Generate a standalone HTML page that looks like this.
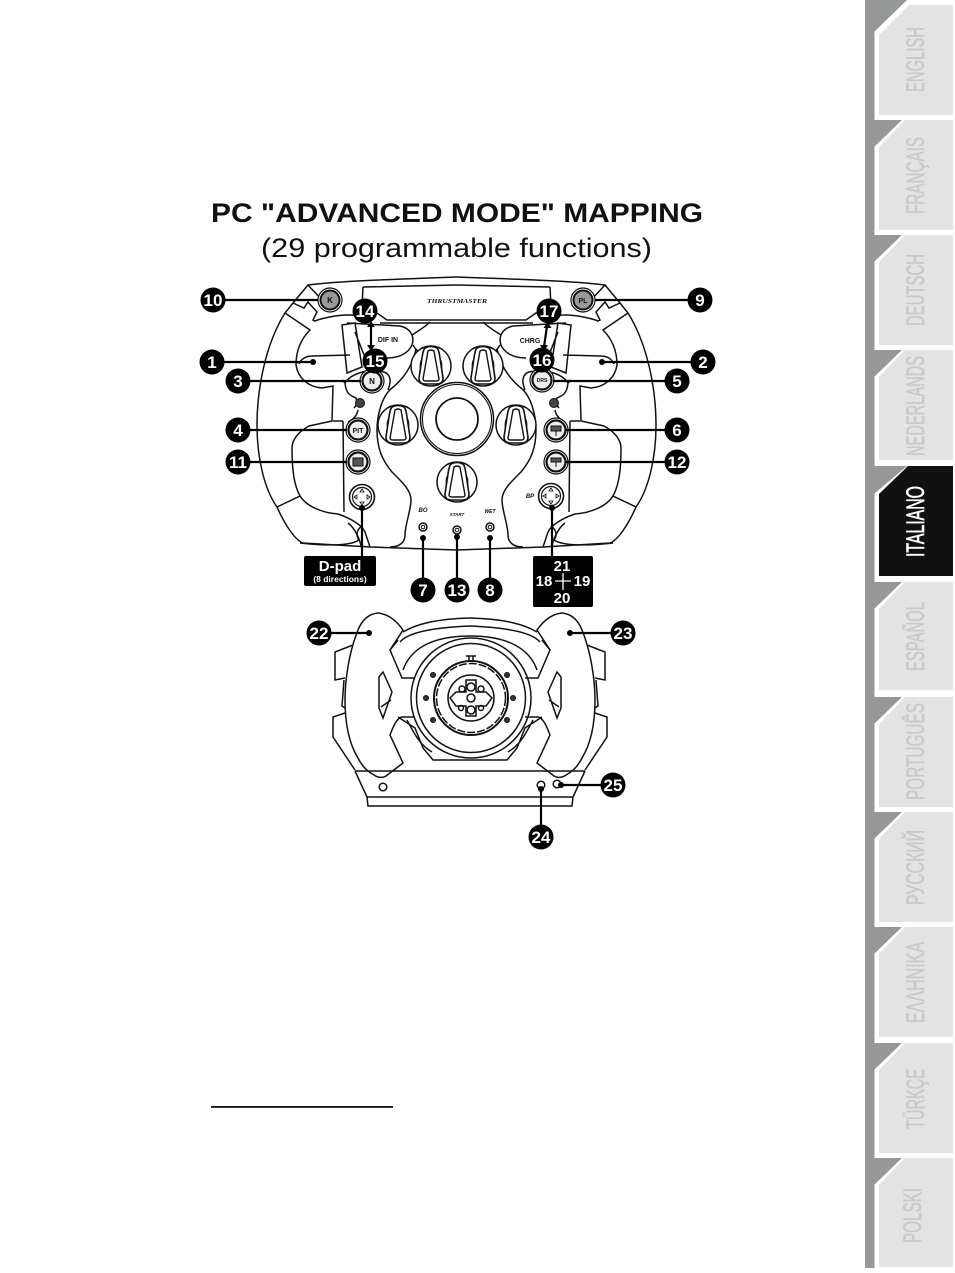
<!DOCTYPE html>
<html><head><meta charset="utf-8"><style>
html,body{margin:0;padding:0;background:#fff}
svg{display:block}
text{font-family:"Liberation Sans","DejaVu Sans",sans-serif}
.t{font-size:25px;fill:#c9c9c9;stroke:#c9c9c9;stroke-width:.6;font-family:"Liberation Sans Narrow","Liberation Sans",sans-serif}
.n{font-size:17px;font-weight:bold;fill:#fff;text-anchor:middle}
.s{font-size:6px;font-weight:bold;font-style:italic;fill:#111;text-anchor:middle}
.bt{font-size:6px;font-weight:bold;fill:#111;text-anchor:middle}
.l{fill:none;stroke:#111;stroke-width:1.5}
.c{stroke:#000;stroke-width:2.2;fill:none}
</style></head><body>
<svg width="955" height="1273" viewBox="0 0 955 1273" xmlns="http://www.w3.org/2000/svg">
<defs>
<g id="k" fill="none" stroke="#111">
<circle r="20" stroke-width="1.5" fill="#fff"/>
<path d="M-11,0A11,13 0 0 0 11,0A11,13 0 0 0 -11,0" stroke-width=".8"/>
<path d="M-6,-18Q0,-21 6,-18Q8,-16 9,-8L12,12Q12,18 6,18L-6,18Q-12,18 -12,12L-9,-8Q-8,-16 -6,-18Z" fill="#fff" stroke-width="1.6"/>
<path d="M-3,-15Q0,-17 3,-15L8,13Q8,15 5,15L-5,15Q-8,15 -8,13Z" stroke-width="1.4"/>
</g>
<g id="b"><circle r="12" fill="#fff" stroke="#111" stroke-width="1.2"/><circle r="9.5" fill="#eee" stroke="#111" stroke-width="2.2"/></g>
<g id="bg"><circle r="12" fill="#fff" stroke="#111" stroke-width="1.2"/><circle r="9.5" fill="#999" stroke="#111" stroke-width="2"/></g>
<g id="d" fill="none" stroke="#111"><circle r="12.5" fill="#fff" stroke-width="1.6"/><circle r="9.5" stroke-width="1.2"/><path d="M0,-8l-2,3h4zM0,8l-2,-3h4zM-8,0l3,-2v4zM8,0l-3,-2v4z" stroke-width=".8"/></g>
<g id="tg" fill="none" stroke="#111"><circle r="4" stroke-width="1.5"/><circle r="1.8" stroke-width="1"/></g>
<g id="half" class="l">
<path d="M456.5,277C400,279 340,281 308,285L293,303L285,313C265,345 257,390 257,425C257,460 265,490 277,507C285,525 295,540 303,543L370,547L456.5,550"/>
<path d="M285,313L310,330C300,340 296,352 296,365C298,378 308,387 322,388L333,386L332,421L309,426C298,432 292,440 292,448C292,470 294,485 300,496L277,507M300,496C306,506 322,513 338,514C350,518 362,525 365,532L370,547"/>
<path d="M300,543C328,546 350,546 359,540C356,536 356,530 362,526M343,421L344,512M333,421L343,421"/>
<path d="M308,285L322,300M293,303L304,308L308,302L317,312L313,320L315,321C322,318 338,315 347,315C360,315 370,316 377,313L387,320L456.5,320M380,323L456.5,323"/>
<path d="M363,287L362,307M363,287L456.5,285"/>
<path d="M347,323L400,326C410,328 415,336 412,345C408,354 398,358 387,358"/>
<path d="M412,335C420,330 426,326 430,322M413,345C416,350 418,352 422,352"/>
<path d="M342,325L355,323L362,367L347,373ZM355,332L366,360M350,355L312,356C306,356 301,359 299,364" fill="#fff"/>
<path d="M345,383C350,375 365,368 384,372C390,374 392,380 388,390M345,383C346,395 352,396 356,398C358,403 356,406 354,408M345,383L342,380M358,410C357,416 352,420 348,422"/>
<path d="M416,349C412,368 402,380 392,388C382,396 377,415 377,430C377,448 382,460 392,472C402,482 411,490 411,500C411,510 405,525 405,535C405,542 400,547 390,547"/>
<path d="M348,523C355,528 360,540 361,546L361,547"/>
</g>
</defs>
<rect width="955" height="1273" fill="#fff"/>

<!-- sidebar -->
<rect x="865" y="0" width="9.5" height="1268" fill="#969897"/>
<g fill="#969897">
<path d="M865,0H907L874,32H865Z"/><path d="M865,120H902L874,147H865Z"/><path d="M865,235H902L874,262H865Z"/><path d="M865,350H902L874,377H865Z"/><path d="M865,466H907L874,494H865Z"/><path d="M865,582H902L874,609H865Z"/><path d="M865,697H902L874,724H865Z"/><path d="M865,812H902L874,839H865Z"/><path d="M865,927H902L874,954H865Z"/><path d="M865,1043H902L874,1070H865Z"/><path d="M865,1158H902L874,1185H865Z"/>
</g>
<g fill="#e3e3e3">
<path d="M879,35L909,5H953V115H879Z"/><path d="M879,147L905,120H953V230H879Z"/><path d="M879,262L905,235H953V345H879Z"/><path d="M879,377L905,350H953V460H879Z"/>
<path fill="#111" d="M879,494L908,466H953V576H879Z"/>
<path d="M879,609L905,582H953V690H879Z"/><path d="M879,724L905,697H953V807H879Z"/><path d="M879,839L905,812H953V922H879Z"/><path d="M879,954L905,927H953V1037H879Z"/><path d="M879,1070L905,1043H953V1153H879Z"/><path d="M879,1185L905,1158H953V1267H879Z"/>
</g>
<g class="t">
<text transform="translate(924,92) rotate(-90)" textLength="65" lengthAdjust="spacingAndGlyphs">ENGLISH</text>
<text transform="translate(924,214) rotate(-90)" textLength="77" lengthAdjust="spacingAndGlyphs">FRANÇAIS</text>
<text transform="translate(924,326) rotate(-90)" textLength="72" lengthAdjust="spacingAndGlyphs">DEUTSCH</text>
<text transform="translate(924,456) rotate(-90)" textLength="100" lengthAdjust="spacingAndGlyphs">NEDERLANDS</text>
<text transform="translate(924,557) rotate(-90)" textLength="71" lengthAdjust="spacingAndGlyphs" style="fill:#fff;stroke:#fff">ITALIANO</text>
<text transform="translate(924,671) rotate(-90)" textLength="69" lengthAdjust="spacingAndGlyphs">ESPAÑOL</text>
<text transform="translate(924,800) rotate(-90)" textLength="97" lengthAdjust="spacingAndGlyphs">PORTUGUÊS</text>
<text transform="translate(924,905) rotate(-90)" textLength="75" lengthAdjust="spacingAndGlyphs">РУССКИЙ</text>
<text transform="translate(924,1023) rotate(-90)" textLength="81" lengthAdjust="spacingAndGlyphs">ΕΛΛΗΝΙΚΑ</text>
<text transform="translate(924,1129) rotate(-90)" textLength="60" lengthAdjust="spacingAndGlyphs">TÜRKÇE</text>
<text transform="translate(921,1243) rotate(-90)" textLength="55" lengthAdjust="spacingAndGlyphs">POLSKI</text>
</g>

<!-- titles -->
<text x="211" y="222" font-size="27" font-weight="bold" fill="#111" textLength="492" lengthAdjust="spacingAndGlyphs">PC "ADVANCED MODE" MAPPING</text>
<text x="261" y="257" font-size="27" fill="#111" textLength="391" lengthAdjust="spacingAndGlyphs">(29 programmable functions)</text>
<rect x="211" y="1106" width="182" height="1.8" fill="#111"/>

<!-- front wheel -->
<use href="#half"/>
<use href="#half" transform="translate(913,0) scale(-1,1)"/>
<use href="#k" x="431" y="366"/><use href="#k" x="483" y="366"/><use href="#k" x="398" y="425"/><use href="#k" x="516" y="425"/><use href="#k" x="457" y="482"/>
<g class="l"><circle cx="457" cy="419" r="36.5"/><circle cx="457" cy="419" r="34.5" stroke-width="1.1"/><circle cx="457" cy="419" r="21" stroke-width="1.8"/></g>
<text x="457" y="303" font-size="6.5" font-weight="bold" font-style="italic" text-anchor="middle" textLength="60" lengthAdjust="spacingAndGlyphs" style="font-family:'Liberation Serif',serif" fill="#111">THRUSTMASTER</text>
<use href="#bg" x="330" y="300"/><use href="#bg" x="583" y="300"/><use href="#b" x="372" y="381"/><use href="#b" x="542" y="380"/><use href="#b" x="358" y="430"/><use href="#b" x="556" y="430"/><use href="#b" x="358" y="462"/><use href="#b" x="556" y="462"/>
<text class="bt" x="330" y="303" style="font-size:8px">K</text><text class="bt" x="583" y="303" style="font-size:7px">PL</text><text class="bt" x="372" y="384" style="font-size:8px">N</text><text class="bt" x="542" y="382" style="font-size:5px">DRS</text><text class="bt" x="358" y="433" style="font-size:7px">PIT</text>
<path d="M353,458h10v8h-10zM551,458h10v4h-10zM556,462v5M551,426h10v5h-10zM556,431v5" fill="#555" stroke="#111"/>
<use href="#d" x="362" y="497"/><use href="#d" x="551" y="496"/>
<g fill="#444" stroke="#111"><circle cx="360" cy="403" r="4.5"/><circle cx="554" cy="403" r="4.5"/></g>
<use href="#tg" x="423" y="527"/><use href="#tg" x="457" y="530"/><use href="#tg" x="490" y="527"/>
<text class="s" x="423" y="512">BO</text><text class="s" x="457" y="516" style="font-size:4.5px">START</text><text class="s" x="490" y="513" style="font-size:5px">WET</text><text class="s" x="530" y="498">BP</text>
<text x="388" y="342" font-size="7" font-weight="bold" fill="#111" text-anchor="middle">DIF IN</text>
<text x="530" y="343" font-size="7" font-weight="bold" fill="#111" text-anchor="middle">CHRG</text>

<!-- rear wheel -->
<g class="l" id="rear">
<path d="M378,613C368,614 362,620 358,630C349,652 345,680 345,700C345,725 350,745 358,758C362,766 368,772 374,775C378,778 383,778 386,776L403,763L390,735C392,730 396,718 402,717L415,717M378,613C388,614 396,620 403,630L390,650L402,678L415,678"/>
<path d="M379,677L383,672L392,692L383,718L379,708ZM381,707L391,700"/>
<path d="M353,645L335,652V680L345,678M344,680L342,706L345,708M345,713L333,717V737L355,770"/>
<path d="M403,632C415,625 433,619 470,618M400,642C405,636 420,628 470,626M390,650L398,640"/>
<path d="M398,717L415,728L423,748L433,760H470M407,720C415,735 420,745 432,752"/>
<path d="M403,670C410,650 430,636 470,636"/>
<path d="M355,771L470,771M355,771L367,797L368,806L470,806M367,797L470,797"/>
</g>
<use href="#rear" transform="translate(940,0) scale(-1,1)"/>
<g class="l">
<circle cx="471" cy="698" r="60"/><circle cx="471" cy="698" r="54.5"/>
<circle cx="471" cy="698" r="37" stroke-width="2"/><circle cx="471" cy="698" r="34.5" stroke-dasharray="8 2"/>
<circle cx="471" cy="698" r="23"/><circle cx="471" cy="698" r="4"/>
<path d="M469,660V656h4v4M466,656h10" />
<path d="M450,698L456,692H466V680H476V692H486L492,698L486,706H476V716H466V706H456Z"/>
<circle cx="462" cy="689" r="3"/><circle cx="481" cy="689" r="3"/><circle cx="461" cy="708" r="2.5"/><circle cx="481" cy="708" r="2.5"/><circle cx="471" cy="687" r="4"/><circle cx="471" cy="710" r="4"/>
</g>
<g fill="#333" stroke="#111"><circle cx="426" cy="698" r="2.5"/><circle cx="513" cy="698" r="2.5"/><circle cx="433" cy="675" r="2.5"/><circle cx="507" cy="675" r="2.5"/><circle cx="433" cy="720" r="2.5"/><circle cx="507" cy="720" r="2.5"/></g>
<g class="l" fill="#fff"><circle cx="383" cy="787" r="3.8"/><circle cx="541" cy="785" r="3.8"/><circle cx="557" cy="784" r="3.8"/></g>

<!-- connectors -->
<g class="c">
<path d="M213,300H318M595,300H700M212,362H312M703,362H603M238,381H361M677,381H553M238,430H347M677,430H566M238,462H347M677,462H566"/>
<path d="M362,507V556M552,507V556M423,538V590M457,537V590M490,537V590"/>
<path d="M319,633H370M623,633H569M613,785H560M541,789V837"/>
<path d="M371,325V347M547,326L544,347"/>
</g>
<g fill="#000">
<path d="M371,321l-4,6h8zM371,351l-4,-6h8zM547.5,322l-4,6h8zM544,351l-4,-6h8z"/>
<circle cx="313" cy="362" r="3"/><circle cx="602" cy="362" r="3"/><circle cx="362" cy="508" r="3"/><circle cx="552" cy="508" r="3"/><circle cx="423" cy="538" r="3"/><circle cx="457" cy="537" r="3"/><circle cx="490" cy="538" r="3"/><circle cx="369" cy="633" r="3"/><circle cx="570" cy="633" r="3"/><circle cx="541" cy="789" r="3"/><circle cx="561" cy="785" r="3"/>
<circle cx="213" cy="300" r="12.5"/><circle cx="212" cy="362" r="12.5"/><circle cx="238" cy="381" r="12.5"/><circle cx="238" cy="430" r="12.5"/><circle cx="238" cy="462" r="12.5"/><circle cx="365" cy="311" r="12.5"/><circle cx="375" cy="361" r="12.5"/>
<circle cx="700" cy="300" r="12.5"/><circle cx="703" cy="362" r="12.5"/><circle cx="677" cy="381" r="12.5"/><circle cx="677" cy="430" r="12.5"/><circle cx="677" cy="462" r="12.5"/><circle cx="549" cy="311" r="12.5"/><circle cx="542" cy="360" r="12.5"/>
<circle cx="423" cy="590" r="12.5"/><circle cx="457" cy="590" r="12.5"/><circle cx="490" cy="590" r="12.5"/>
<circle cx="319" cy="633" r="12.5"/><circle cx="623" cy="633" r="12.5"/><circle cx="613" cy="785" r="12.5"/><circle cx="541" cy="837" r="12.5"/>
<rect x="304" y="556" width="72" height="30" rx="2"/><rect x="533" y="556" width="60" height="51" rx="2"/>
</g>
<g class="n">
<text x="213" y="306">10</text><text x="212" y="368">1</text><text x="238" y="387">3</text><text x="238" y="436">4</text><text x="238" y="468">11</text><text x="365" y="317">14</text><text x="375" y="367">15</text>
<text x="700" y="306">9</text><text x="703" y="368">2</text><text x="677" y="387">5</text><text x="677" y="436">6</text><text x="677" y="468">12</text><text x="549" y="317">17</text><text x="542" y="366">16</text>
<text x="423" y="596">7</text><text x="457" y="596">13</text><text x="490" y="596">8</text>
<text x="319" y="639">22</text><text x="623" y="639">23</text><text x="613" y="791">25</text><text x="541" y="843">24</text>
<text x="340" y="571" style="font-size:15px">D-pad</text><text x="340" y="582" style="font-size:8.5px">(8 directions)</text>
<text x="562" y="571" style="font-size:15px">21</text><text x="544" y="586" style="font-size:15px">18</text><text x="582" y="586" style="font-size:15px">19</text><text x="562" y="603" style="font-size:15px">20</text>
</g>
<path d="M555,581H571M563,573V590" stroke="#fff" stroke-width="1.3"/>
</svg>
</body></html>
